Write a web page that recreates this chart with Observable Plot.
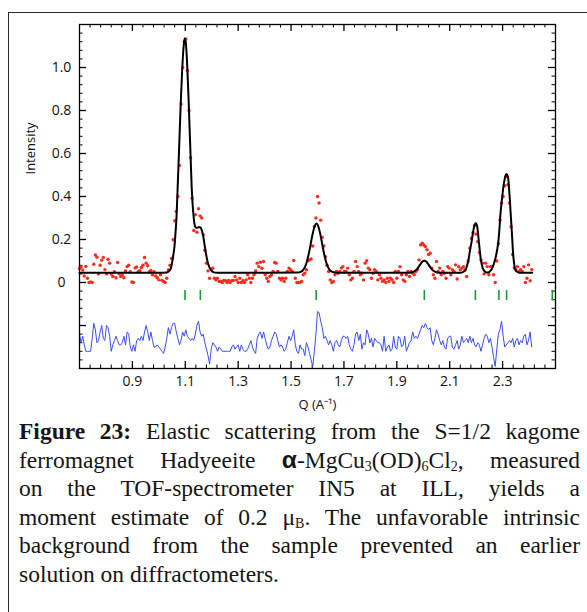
<!DOCTYPE html>
<html><head><meta charset="utf-8">
<script src="https://cdn.jsdelivr.net/npm/d3@7"></script>
<script src="https://cdn.jsdelivr.net/npm/@observablehq/plot@0.6"></script>
<style>
body{margin:0;background:#fff;width:587px;height:612px;overflow:hidden;position:relative;}
#chart{position:absolute;left:0;top:0;}
#box{position:absolute;left:8px;top:12px;width:640px;height:660px;border:1.5px solid #2a2a2a;box-sizing:border-box;}
#caption{position:absolute;left:19px;top:417px;width:561px;font-family:"Liberation Serif",serif;font-size:23.5px;line-height:28.6px;color:#151515;}
#caption div{text-align:justify;text-align-last:justify;}
#caption div.last{text-align-last:left;}
#caption sub{font-size:0.6em;line-height:0;vertical-align:-0.22em;}
#caption .alpha{font-family:"Liberation Sans",sans-serif;font-weight:bold;font-size:1.05em;}
</style></head><body>
<div id="chart"></div>
<div id="box"></div>
<div id="caption">
<div><b>Figure 23:</b> Elastic scattering from the S=1/2 kagome</div>
<div>ferromagnet Hadyeeite <span class="alpha">α</span>-MgCu<sub>3</sub>(OD)<sub>6</sub>Cl<sub>2</sub>, measured</div>
<div>on the TOF-spectrometer IN5 at ILL, yields a</div>
<div>moment estimate of 0.2 μ<sub>B</sub>. The unfavorable intrinsic</div>
<div>background from the sample prevented an earlier</div>
<div class="last">solution on diffractometers.</div>
</div>
<script>
// Q grid of the measurement (A^-1)
const qGrid = [
0.700,0.706,0.712,0.718,0.724,0.730,0.736,0.742,0.748,0.754,
0.760,0.766,0.772,0.778,0.784,0.790,0.796,0.802,0.808,0.814,
0.820,0.826,0.832,0.838,0.844,0.850,0.856,0.862,0.868,0.874,
0.880,0.886,0.892,0.898,0.904,0.910,0.916,0.922,0.928,0.934,
0.940,0.946,0.952,0.958,0.964,0.970,0.976,0.982,0.988,0.994,
1.000,1.006,1.012,1.018,1.024,1.030,1.036,1.042,1.048,1.054,
1.060,1.066,1.072,1.078,1.084,1.090,1.096,1.102,1.108,1.114,
1.120,1.126,1.132,1.138,1.144,1.150,1.156,1.162,1.168,1.174,
1.180,1.186,1.192,1.198,1.204,1.210,1.216,1.222,1.228,1.234,
1.240,1.246,1.252,1.258,1.264,1.270,1.276,1.282,1.288,1.294,
1.300,1.306,1.312,1.318,1.324,1.330,1.336,1.342,1.348,1.354,
1.360,1.366,1.372,1.378,1.384,1.390,1.396,1.402,1.408,1.414,
1.420,1.426,1.432,1.438,1.444,1.450,1.456,1.462,1.468,1.474,
1.480,1.486,1.492,1.498,1.504,1.510,1.516,1.522,1.528,1.534,
1.540,1.546,1.552,1.558,1.564,1.570,1.576,1.582,1.588,1.594,
1.600,1.606,1.612,1.618,1.624,1.630,1.636,1.642,1.648,1.654,
1.660,1.666,1.672,1.678,1.684,1.690,1.696,1.702,1.708,1.714,
1.720,1.726,1.732,1.738,1.744,1.750,1.756,1.762,1.768,1.774,
1.780,1.786,1.792,1.798,1.804,1.810,1.816,1.822,1.828,1.834,
1.840,1.846,1.852,1.858,1.864,1.870,1.876,1.882,1.888,1.894,
1.900,1.906,1.912,1.918,1.924,1.930,1.936,1.942,1.948,1.954,
1.960,1.966,1.972,1.978,1.984,1.990,1.996,2.002,2.008,2.014,
2.020,2.026,2.032,2.038,2.044,2.050,2.056,2.062,2.068,2.074,
2.080,2.086,2.092,2.098,2.104,2.110,2.116,2.122,2.128,2.134,
2.140,2.146,2.152,2.158,2.164,2.170,2.176,2.182,2.188,2.194,
2.200,2.206,2.212,2.218,2.224,2.230,2.236,2.242,2.248,2.254,
2.260,2.266,2.272,2.278,2.284,2.290,2.296,2.302,2.308,2.314,
2.320,2.326,2.332,2.338,2.344,2.350,2.356,2.362,2.368,2.374,
2.380,2.386,2.392,2.398,2.404,2.410];

// measured intensity (red points)
const measured = [
0.065,0.072,0.058,0.030,0.075,0.020,0.000,0.002,0.000,0.085,
0.128,0.118,0.040,0.080,0.104,0.116,0.060,0.040,0.108,0.090,
0.040,0.028,0.050,0.022,0.093,0.040,0.028,0.035,0.022,0.054,
0.074,0.080,0.050,0.002,0.000,0.068,0.072,0.050,0.055,0.070,
0.080,0.116,0.090,0.078,0.050,0.056,0.036,0.050,0.030,0.022,
0.012,0.036,0.010,0.005,0.000,0.020,0.058,0.080,0.112,0.199,
0.287,0.330,0.400,0.544,0.830,1.000,1.120,1.133,0.986,0.800,
0.580,0.392,0.242,0.315,0.234,0.343,0.310,0.300,0.222,0.150,
0.090,0.054,0.020,0.059,0.066,0.020,0.012,0.020,0.005,0.005,
0.000,0.010,0.008,0.000,0.010,0.000,0.008,0.010,0.028,0.012,
0.000,0.020,0.000,0.008,0.000,0.012,0.036,0.020,0.000,0.020,
0.036,0.054,0.090,0.074,0.094,0.066,0.098,0.036,0.020,0.005,
0.028,0.036,0.051,0.093,0.090,0.051,0.020,0.012,0.020,0.005,
0.020,0.051,0.067,0.059,0.051,0.102,0.020,0.000,0.000,0.000,
0.005,0.036,0.043,0.059,0.101,0.105,0.110,0.170,0.260,0.300,
0.400,0.370,0.290,0.210,0.170,0.120,0.080,0.051,0.012,0.000,
0.005,0.036,0.051,0.043,0.051,0.067,0.074,0.051,0.051,0.067,
0.036,0.012,0.020,0.051,0.098,0.074,0.051,0.036,0.043,0.012,
0.090,0.101,0.067,0.059,0.020,0.043,0.059,0.051,0.012,0.036,
0.020,0.005,0.012,0.000,0.020,0.005,0.020,0.012,0.000,0.051,
0.020,0.051,0.074,0.036,0.012,0.005,0.036,0.051,0.028,0.051,
0.043,0.036,0.051,0.060,0.105,0.175,0.183,0.175,0.167,0.152,
0.130,0.136,0.067,0.036,0.020,0.098,0.051,0.067,0.036,0.051,
0.043,0.020,0.074,0.067,0.036,0.059,0.051,0.082,0.016,0.074,
0.059,0.067,0.074,0.059,0.028,0.100,0.160,0.205,0.232,0.265,
0.225,0.190,0.140,0.105,0.090,0.040,0.090,0.074,0.036,0.074,
0.074,0.036,0.000,0.100,0.180,0.290,0.370,0.400,0.450,0.493,
0.455,0.370,0.260,0.130,0.067,0.059,0.074,0.051,0.059,0.051,
0.074,0.000,0.020,0.082,0.008,0.060];

// residual (blue line, offset below the pattern)
const residual = [
-0.24,-0.28,-0.25,-0.29,-0.32,-0.32,-0.32,-0.32,-0.26,-0.19,
-0.22,-0.28,-0.27,-0.23,-0.20,-0.26,-0.27,-0.20,-0.21,-0.25,
-0.32,-0.29,-0.27,-0.25,-0.27,-0.29,-0.29,-0.28,-0.25,-0.29,
-0.23,-0.24,-0.30,-0.32,-0.29,-0.32,-0.27,-0.26,-0.27,-0.25,
-0.27,-0.23,-0.20,-0.23,-0.27,-0.23,-0.27,-0.30,-0.30,-0.29,
-0.30,-0.31,-0.32,-0.33,-0.30,-0.26,-0.21,-0.24,-0.21,-0.19,
-0.19,-0.23,-0.26,-0.29,-0.27,-0.23,-0.25,-0.22,-0.25,-0.26,
-0.27,-0.26,-0.27,-0.24,-0.20,-0.18,-0.23,-0.25,-0.24,-0.28,
-0.31,-0.34,-0.38,-0.31,-0.28,-0.29,-0.30,-0.32,-0.30,-0.31,
-0.32,-0.32,-0.32,-0.32,-0.32,-0.32,-0.30,-0.29,-0.31,-0.30,
-0.29,-0.32,-0.29,-0.31,-0.32,-0.32,-0.31,-0.29,-0.27,-0.30,
-0.32,-0.33,-0.26,-0.24,-0.23,-0.26,-0.23,-0.26,-0.29,-0.31,
-0.30,-0.27,-0.25,-0.23,-0.24,-0.27,-0.30,-0.29,-0.30,-0.32,
-0.31,-0.28,-0.25,-0.27,-0.25,-0.22,-0.29,-0.32,-0.33,-0.29,
-0.31,-0.31,-0.34,-0.28,-0.30,-0.33,-0.36,-0.39,-0.32,-0.24,
-0.135,-0.14,-0.18,-0.21,-0.26,-0.25,-0.27,-0.29,-0.27,-0.29,
-0.32,-0.28,-0.27,-0.29,-0.30,-0.27,-0.25,-0.25,-0.26,-0.25,
-0.29,-0.31,-0.32,-0.29,-0.24,-0.23,-0.27,-0.24,-0.31,-0.28,
-0.29,-0.22,-0.24,-0.28,-0.26,-0.30,-0.26,-0.27,-0.28,-0.28,
-0.29,-0.32,-0.25,-0.32,-0.30,-0.29,-0.32,-0.31,-0.25,-0.30,
-0.31,-0.25,-0.26,-0.30,-0.29,-0.25,-0.32,-0.30,-0.28,-0.27,
-0.23,-0.26,-0.25,-0.26,-0.24,-0.22,-0.20,-0.21,-0.19,-0.21,
-0.22,-0.21,-0.27,-0.29,-0.26,-0.22,-0.24,-0.27,-0.29,-0.27,
-0.30,-0.31,-0.26,-0.25,-0.25,-0.30,-0.31,-0.29,-0.27,-0.31,
-0.29,-0.25,-0.28,-0.27,-0.26,-0.28,-0.25,-0.28,-0.26,-0.29,
-0.30,-0.28,-0.29,-0.32,-0.29,-0.26,-0.24,-0.25,-0.28,-0.26,
-0.30,-0.35,-0.39,-0.31,-0.24,-0.22,-0.18,-0.25,-0.30,-0.29,
-0.28,-0.27,-0.28,-0.26,-0.30,-0.27,-0.26,-0.29,-0.27,-0.28,
-0.25,-0.24,-0.29,-0.27,-0.23,-0.30];

// fitted curve (black line)
const fitQ = [
0.700,1.000,1.030,1.040,1.046,1.051,1.055,1.059,1.063,1.066,
1.069,1.072,1.076,1.080,1.084,1.088,1.092,1.095,1.098,1.101,
1.104,1.108,1.112,1.116,1.120,1.124,1.128,1.132,1.136,1.140,
1.146,1.152,1.157,1.162,1.168,1.173,1.177,1.182,1.187,1.193,
1.200,1.208,1.220,
1.526,1.536,1.546,1.554,1.560,1.566,1.572,1.578,1.584,1.590,
1.596,1.602,1.608,1.614,1.620,1.626,1.632,1.638,1.646,1.656,
1.666,1.680,
1.950,1.962,1.972,1.980,1.988,1.996,2.004,2.012,2.020,2.028,2.036,2.046,2.058,
2.140,2.152,2.160,2.166,2.172,2.178,2.183,2.187,2.191,2.195,
2.198,2.201,2.204,2.207,2.210,2.214,2.217,2.221,2.225,2.230,
2.236,2.242,2.248,2.254,2.261,2.267,2.273,2.279,2.284,2.288,
2.292,2.296,2.300,2.304,2.308,2.312,2.315,2.318,2.321,2.324,
2.327,2.330,2.334,2.337,2.340,2.343,2.346,2.350,2.355,2.365,
2.412];
const fitI = [
0.045,0.045,0.047,0.055,0.068,0.098,0.130,0.165,0.230,0.284,
0.370,0.470,0.600,0.740,0.870,0.980,1.070,1.115,1.135,1.125,
1.085,0.990,0.870,0.730,0.590,0.450,0.360,0.300,0.265,0.255,
0.255,0.258,0.256,0.245,0.215,0.175,0.144,0.110,0.085,0.067,
0.054,0.047,0.045,
0.046,0.049,0.059,0.076,0.098,0.128,0.164,0.204,0.239,0.265,
0.274,0.265,0.239,0.204,0.164,0.128,0.098,0.076,0.059,0.049,
0.046,0.045,
0.045,0.049,0.057,0.068,0.083,0.096,0.101,0.096,0.083,0.068,0.057,0.049,0.045,
0.045,0.050,0.059,0.080,0.113,0.160,0.191,0.225,0.253,0.270,
0.276,0.272,0.260,0.230,0.191,0.145,0.113,0.085,0.067,0.055,
0.048,0.047,0.048,0.055,0.067,0.088,0.113,0.150,0.191,0.250,
0.320,0.370,0.415,0.455,0.482,0.500,0.505,0.500,0.485,0.445,
0.392,0.330,0.253,0.190,0.129,0.095,0.067,0.056,0.050,0.045,
0.045];

// Bragg peak positions (green markers)
const braggQ = [1.099, 1.157, 1.595, 2.004, 2.197, 2.286, 2.315, 2.488];

// axis ticks
const xLabelTicks = [0.9, 1.1, 1.3, 1.5, 1.7, 1.9, 2.1, 2.3];
const xMinorTicks = [0.74,0.78,0.82,0.86,0.94,0.98,1.02,1.06,1.14,1.18,1.22,1.26,1.34,1.38,1.42,1.46,
  1.54,1.58,1.62,1.66,1.74,1.78,1.82,1.86,1.94,1.98,2.02,2.06,2.14,2.18,2.22,2.26,2.34,2.38,2.42,2.46];
const yLabelTicks = [0, 0.2, 0.4, 0.6, 0.8, 1.0];
const yMajorTicks = [-0.2, 0, 0.2, 0.4, 0.6, 0.8, 1.0];
const yMinorTicks = [-0.36,-0.32,-0.28,-0.24,-0.16,-0.12,-0.08,-0.04,0.04,0.08,0.12,0.16,0.24,0.28,0.32,0.36,
  0.44,0.48,0.52,0.56,0.64,0.68,0.72,0.76,0.84,0.88,0.92,0.96,1.04,1.08,1.12,1.16];

const pts = qGrid.map((q, k) => ({q, v: measured[k], r: residual[k]}));
const fit = fitQ.map((q, k) => ({q, v: fitI[k]}));

const W = 587, H = 416, mL = 79, mR = 32, mT = 24, mB = 48;
const fw = W - mL - mR, fh = H - mT - mB;
const major = 7, minor = 3.5;

const chart = Plot.plot({
  width: W, height: H,
  marginLeft: mL, marginRight: mR, marginTop: mT, marginBottom: mB,
  style: {fontFamily: "'Open Sans', sans-serif", fontSize: "14px", color: "#111", background: "none", overflow: "visible"},
  x: {domain: [0.7, 2.5]},
  y: {domain: [-0.4, 1.2]},
  marks: [
    // inward ticks on all four sides
    Plot.ruleX(xLabelTicks, {x: d => d, insetTop: fh - major, stroke: "#000", strokeWidth: 1.3}),
    Plot.ruleX(xLabelTicks, {x: d => d, insetBottom: fh - major, stroke: "#000", strokeWidth: 1.3}),
    Plot.ruleX(xMinorTicks, {x: d => d, insetTop: fh - minor, stroke: "#000", strokeWidth: 1}),
    Plot.ruleX(xMinorTicks, {x: d => d, insetBottom: fh - minor, stroke: "#000", strokeWidth: 1}),
    Plot.ruleY(yMajorTicks, {y: d => d, insetRight: fw - major, stroke: "#000", strokeWidth: 1.3}),
    Plot.ruleY(yMajorTicks, {y: d => d, insetLeft: fw - major, stroke: "#000", strokeWidth: 1.3}),
    Plot.ruleY(yMinorTicks, {y: d => d, insetRight: fw - minor, stroke: "#000", strokeWidth: 1}),
    Plot.ruleY(yMinorTicks, {y: d => d, insetLeft: fw - minor, stroke: "#000", strokeWidth: 1}),
    Plot.axisX({ticks: xLabelTicks, anchor: "bottom", tickSize: 0, tickPadding: 8, tickFormat: d => d.toFixed(1), label: null, fontSize: 14}),
    Plot.axisY({ticks: yLabelTicks, anchor: "left", tickSize: 0, tickPadding: 18, textAnchor: "middle", tickFormat: d => d === 0 ? "0" : d.toFixed(1), label: null, fontSize: 14}),
    Plot.text(["Intensity"], {text: d => d, frameAnchor: "left", dx: -49, dy: -22, rotate: -90, fontSize: 13}),
    Plot.text(["Q (A⁻¹)"], {text: d => d, frameAnchor: "bottom", dy: 40, fontSize: 13}),
    // residual
    Plot.line(pts, {x: "q", y: "r", stroke: "#3a4df5", strokeWidth: 1}),
    // Bragg markers
    Plot.ruleX(braggQ, {x: d => d, y1: -0.037, y2: -0.084, stroke: "#1c9a2c", strokeWidth: 1.6}),
    // data points
    Plot.dot(pts, {x: "q", y: "v", r: 1.7, fill: "#ff2b1c", stroke: "none"}),
    // fit
    Plot.line(fit, {x: "q", y: "v", stroke: "#000", strokeWidth: 2, curve: "monotone-x"}),
    Plot.frame({stroke: "#000", strokeWidth: 1.3})
  ]
});
document.getElementById("chart").append(chart);
</script>
</body></html>
